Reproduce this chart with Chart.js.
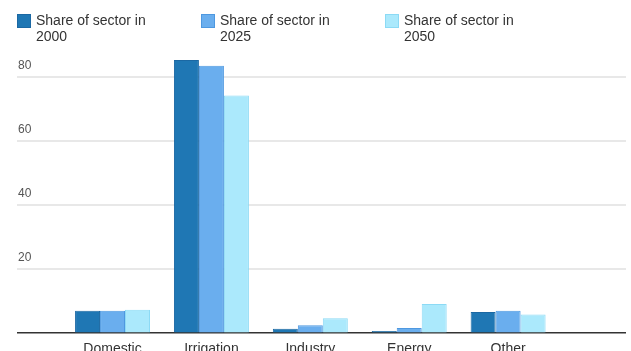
<!DOCTYPE html>
<html>
<head>
<meta charset="utf-8">
<script src="https://cdn.jsdelivr.net/npm/chart.js@4.4.1/dist/chart.umd.min.js"></script>
<style>
  html, body { margin: 0; padding: 0; background: #fff; overflow: hidden; }
  body { width: 631px; height: 351px; position: relative; font-family: "Liberation Sans", Arial, Helvetica, sans-serif; }
  #wrap { position: absolute; left: 0; top: 0; width: 631px; height: 366px; }
  #legend { position: absolute; left: 17px; top: 12px; display: flex; z-index: 2; }
  .item { width: 184px; display: flex; align-items: flex-start; }
  .sw { width: 14px; height: 14px; margin-top: 2px; margin-right: 5px; flex: none; box-sizing: border-box; }
  .tx { width: 122px; font-size: 14px; line-height: 16px; color: #333; }
</style>
</head>
<body>
<div id="legend"></div>
<div id="wrap"><canvas id="c" width="631" height="366"></canvas></div>
<script>
const categories = ["Domestic", "Irrigation", "Industry", "Energy", "Other"];
const seriesNames = ["Share of sector in 2000", "Share of sector in 2025", "Share of sector in 2050"];
const share2000 = [7.0, 85.2, 1.4, 0.7, 6.6];
const share2025 = [7.0, 83.4, 2.5, 1.6, 7.0];
const share2050 = [7.3, 74.1, 4.7, 9.1, 5.8];
const yTicks = [0, 20, 40, 60, 80];

const fills = ["#1f77b4", "#6aaeee", "#abe9fc"];
const borders = ["#1b68a3", "#4e98e0", "#8cdaf5"];
const allSeries = [share2000, share2025, share2050];

// HTML legend built from the dataset names
const legend = document.getElementById("legend");
seriesNames.forEach((name, i) => {
  const it = document.createElement("div");
  it.className = "item";
  const sw = document.createElement("div");
  sw.className = "sw";
  sw.style.background = fills[i];
  sw.style.border = "1px solid " + borders[i];
  const tx = document.createElement("div");
  tx.className = "tx";
  tx.textContent = name;
  it.appendChild(sw); it.appendChild(tx);
  legend.appendChild(it);
});

const datasets = allSeries.map((vals, i) => ({
  label: seriesNames[i],
  data: vals.map((v, k) => ({ x: k, y: v })),
  backgroundColor: fills[i],
  borderColor: borders[i],
  borderWidth: 1,
  categoryPercentage: 0.758,
  barPercentage: 1.0
}));

new Chart(document.getElementById("c"), {
  type: "bar",
  data: { datasets },
  options: {
    responsive: false,
    animation: false,
    layout: { padding: { left: 17, right: 5, top: 51, bottom: 0 } },
    plugins: { legend: { display: false }, tooltip: { enabled: false } },
    scales: {
      x: {
        type: "linear",
        position: "bottom",
        offset: false,
        min: -0.966,
        max: 5.192,
        afterBuildTicks: (s) => { s.ticks = categories.map((c, i) => ({ value: i })); },
        grid: { display: false, drawTicks: false, offset: false },
        border: { display: false },
        ticks: {
          autoSkip: false,
          maxRotation: 0,
          padding: 8,
          color: "#333",
          font: { family: "'Liberation Sans', Arial, sans-serif", size: 14 },
          callback: (v) => categories[v] ?? ""
        }
      },
      y: {
        position: "left",
        min: 0,
        max: 88,
        afterFit: (s) => { s.width = 0; },
        afterBuildTicks: (s) => { s.ticks = yTicks.map(v => ({ value: v })); },
        border: { display: false },
        grid: {
          drawTicks: false,
          color: (ctx) => ctx.tick && ctx.tick.value === 0 ? "#333333" : "#e8e8e8",
          lineWidth: (ctx) => ctx.tick && ctx.tick.value === 0 ? 1.5 : 2
        },
        ticks: {
          mirror: true,
          padding: 1,
          labelOffset: -11,
          color: "#555",
          font: { family: "'Liberation Sans', Arial, sans-serif", size: 12 },
          callback: (v) => v === 0 ? "" : String(v)
        }
      }
    }
  }
});
</script>
</body>
</html>
